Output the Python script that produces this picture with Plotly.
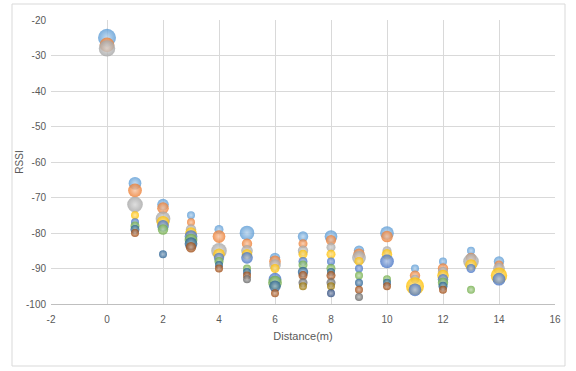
import plotly.graph_objects as go

distances = list(range(15))

rssi_d0 = [-25, -27, -28]
size_d0 = [12, 8, 10]
rssi_d1 = [-66, -68, -72, -75, -77, -78, -79, -80]
size_d1 = [6, 7, 9, 1, 2, 3, 3, 2]
rssi_d2 = [-72, -73, -76, -77, -78, -79, -86]
size_d2 = [5, 5, 8, 6, 5, 4, 1]
rssi_d3 = [-75, -77, -79, -80, -81, -82, -83, -84]
size_d3 = [1, 2, 4, 5, 6, 6, 6, 4]
rssi_d4 = [-79, -81, -85, -86, -87, -88, -89, -90]
size_d4 = [3, 6, 9, 5, 4, 3, 2, 1]
rssi_d5 = [-80, -83, -85, -86, -87, -90, -91, -92, -93]
size_d5 = [8, 4, 5, 4, 5, 2, 2, 1, 1]
rssi_d6 = [-87, -88, -89, -90, -93, -94, -95, -97]
size_d6 = [4, 5, 5, 3, 6, 7, 5, 1]
rssi_d7 = [-81, -83, -85, -86, -88, -89, -91, -92, -94, -95]
size_d7 = [4, 3, 4, 3, 3, 3, 4, 3, 3, 2]
rssi_d8 = [-81, -82, -84, -86, -88, -90, -91, -92, -94, -95, -97]
size_d8 = [6, 4, 3, 3, 2, 3, 2, 3, 3, 2, 1]
rssi_d9 = [-85, -86, -87, -88, -90, -92, -94, -96, -98]
size_d9 = [4, 5, 7, 3, 1, 1, 1, 1, 1]
rssi_d10 = [-80, -81, -85, -86, -88, -93, -94, -95]
size_d10 = [7, 5, 3, 4, 7, 1, 1, 1]
rssi_d11 = [-90, -92, -93, -95, -96]
size_d11 = [2, 4, 3, 12, 6]
rssi_d12 = [-88, -90, -91, -92, -93, -94, -95, -96]
size_d12 = [2, 4, 4, 5, 4, 4, 3, 2]
rssi_d13 = [-85, -87, -88, -89, -90, -96]
size_d13 = [2, 4, 9, 5, 3, 1]
rssi_d14 = [-88, -89, -90, -92, -93]
size_d14 = [4, 3, 5, 10, 6]

x_ticks = list(range(-2, 17, 2))
y_ticks = list(range(-100, -19, 10))

rssi_all = [rssi_d0, rssi_d1, rssi_d2, rssi_d3, rssi_d4, rssi_d5, rssi_d6, rssi_d7,
            rssi_d8, rssi_d9, rssi_d10, rssi_d11, rssi_d12, rssi_d13, rssi_d14]
size_all = [size_d0, size_d1, size_d2, size_d3, size_d4, size_d5, size_d6, size_d7,
            size_d8, size_d9, size_d10, size_d11, size_d12, size_d13, size_d14]

palette = ["#5B9BD5", "#ED7D31", "#A5A5A5", "#FFC000", "#4472C4", "#70AD47",
           "#255E91", "#9E480E", "#636363", "#997300", "#264478", "#43682B"]


def lighten(hexc, f=0.55):
    r, g, b = int(hexc[1:3], 16), int(hexc[3:5], 16), int(hexc[5:7], 16)
    r, g, b = [int(c + (255 - c) * f) for c in (r, g, b)]
    return "#%02x%02x%02x" % (r, g, b)


max_size = max(max(s) for s in size_all)
max_diam = 18
sizeref = 2.0 * max_size / (max_diam ** 2)

fig = go.Figure()
n_series = max(len(r) for r in rssi_all)
for j in range(n_series):
    xs, ys, ss = [], [], []
    for d, r, s in zip(distances, rssi_all, size_all):
        if j < len(r):
            xs.append(d)
            ys.append(r[j])
            ss.append(s[j])
    col = palette[j % len(palette)]
    fig.add_trace(go.Scatter(
        x=xs, y=ys, mode="markers",
        marker=dict(size=ss, sizemode="area", sizeref=sizeref, sizemin=4,
                    color=col, opacity=0.8, line=dict(width=0),
                    gradient=dict(type="radial", color=lighten(col))),
        showlegend=False, hoverinfo="x+y"))

fam = "Liberation Sans, Arial, sans-serif"
axis_font = dict(family=fam, size=10, color="#595959")

fig.update_layout(
    width=576, height=371,
    margin=dict(l=51, r=21, t=20, b=67),
    paper_bgcolor="white", plot_bgcolor="white",
    xaxis=dict(range=[-2, 16], tickvals=x_ticks, ticktext=[str(v) for v in x_ticks],
               showgrid=True, gridcolor="#d9d9d9",
               zeroline=False, showline=True, linecolor="#bfbfbf", ticks="",
               tickfont=axis_font, fixedrange=True, ticklabelstandoff=6,
               title=dict(text="Distance(m)", font=dict(family=fam, size=11, color="#595959"),
                          standoff=8)),
    yaxis=dict(range=[-100, -20], tickvals=y_ticks, ticktext=[str(v) for v in y_ticks],
               showgrid=True, gridcolor="#d9d9d9",
               zeroline=False, showline=False, ticks="", tickfont=axis_font, fixedrange=True,
               ticklabelstandoff=4,
               title=dict(text="RSSI", font=dict(family=fam, size=10, color="#595959"),
                          standoff=0)),
    shapes=[dict(type="rect", xref="paper", yref="paper",
                 x0=(12 - 51) / 504, x1=(565 - 51) / 504,
                 y0=(304 - 366) / 284, y1=(304 - 4) / 284,
                 line=dict(color="#d9d9d9", width=1), fillcolor="rgba(0,0,0,0)", layer="below")],
)

fig.write_html("out.html")
